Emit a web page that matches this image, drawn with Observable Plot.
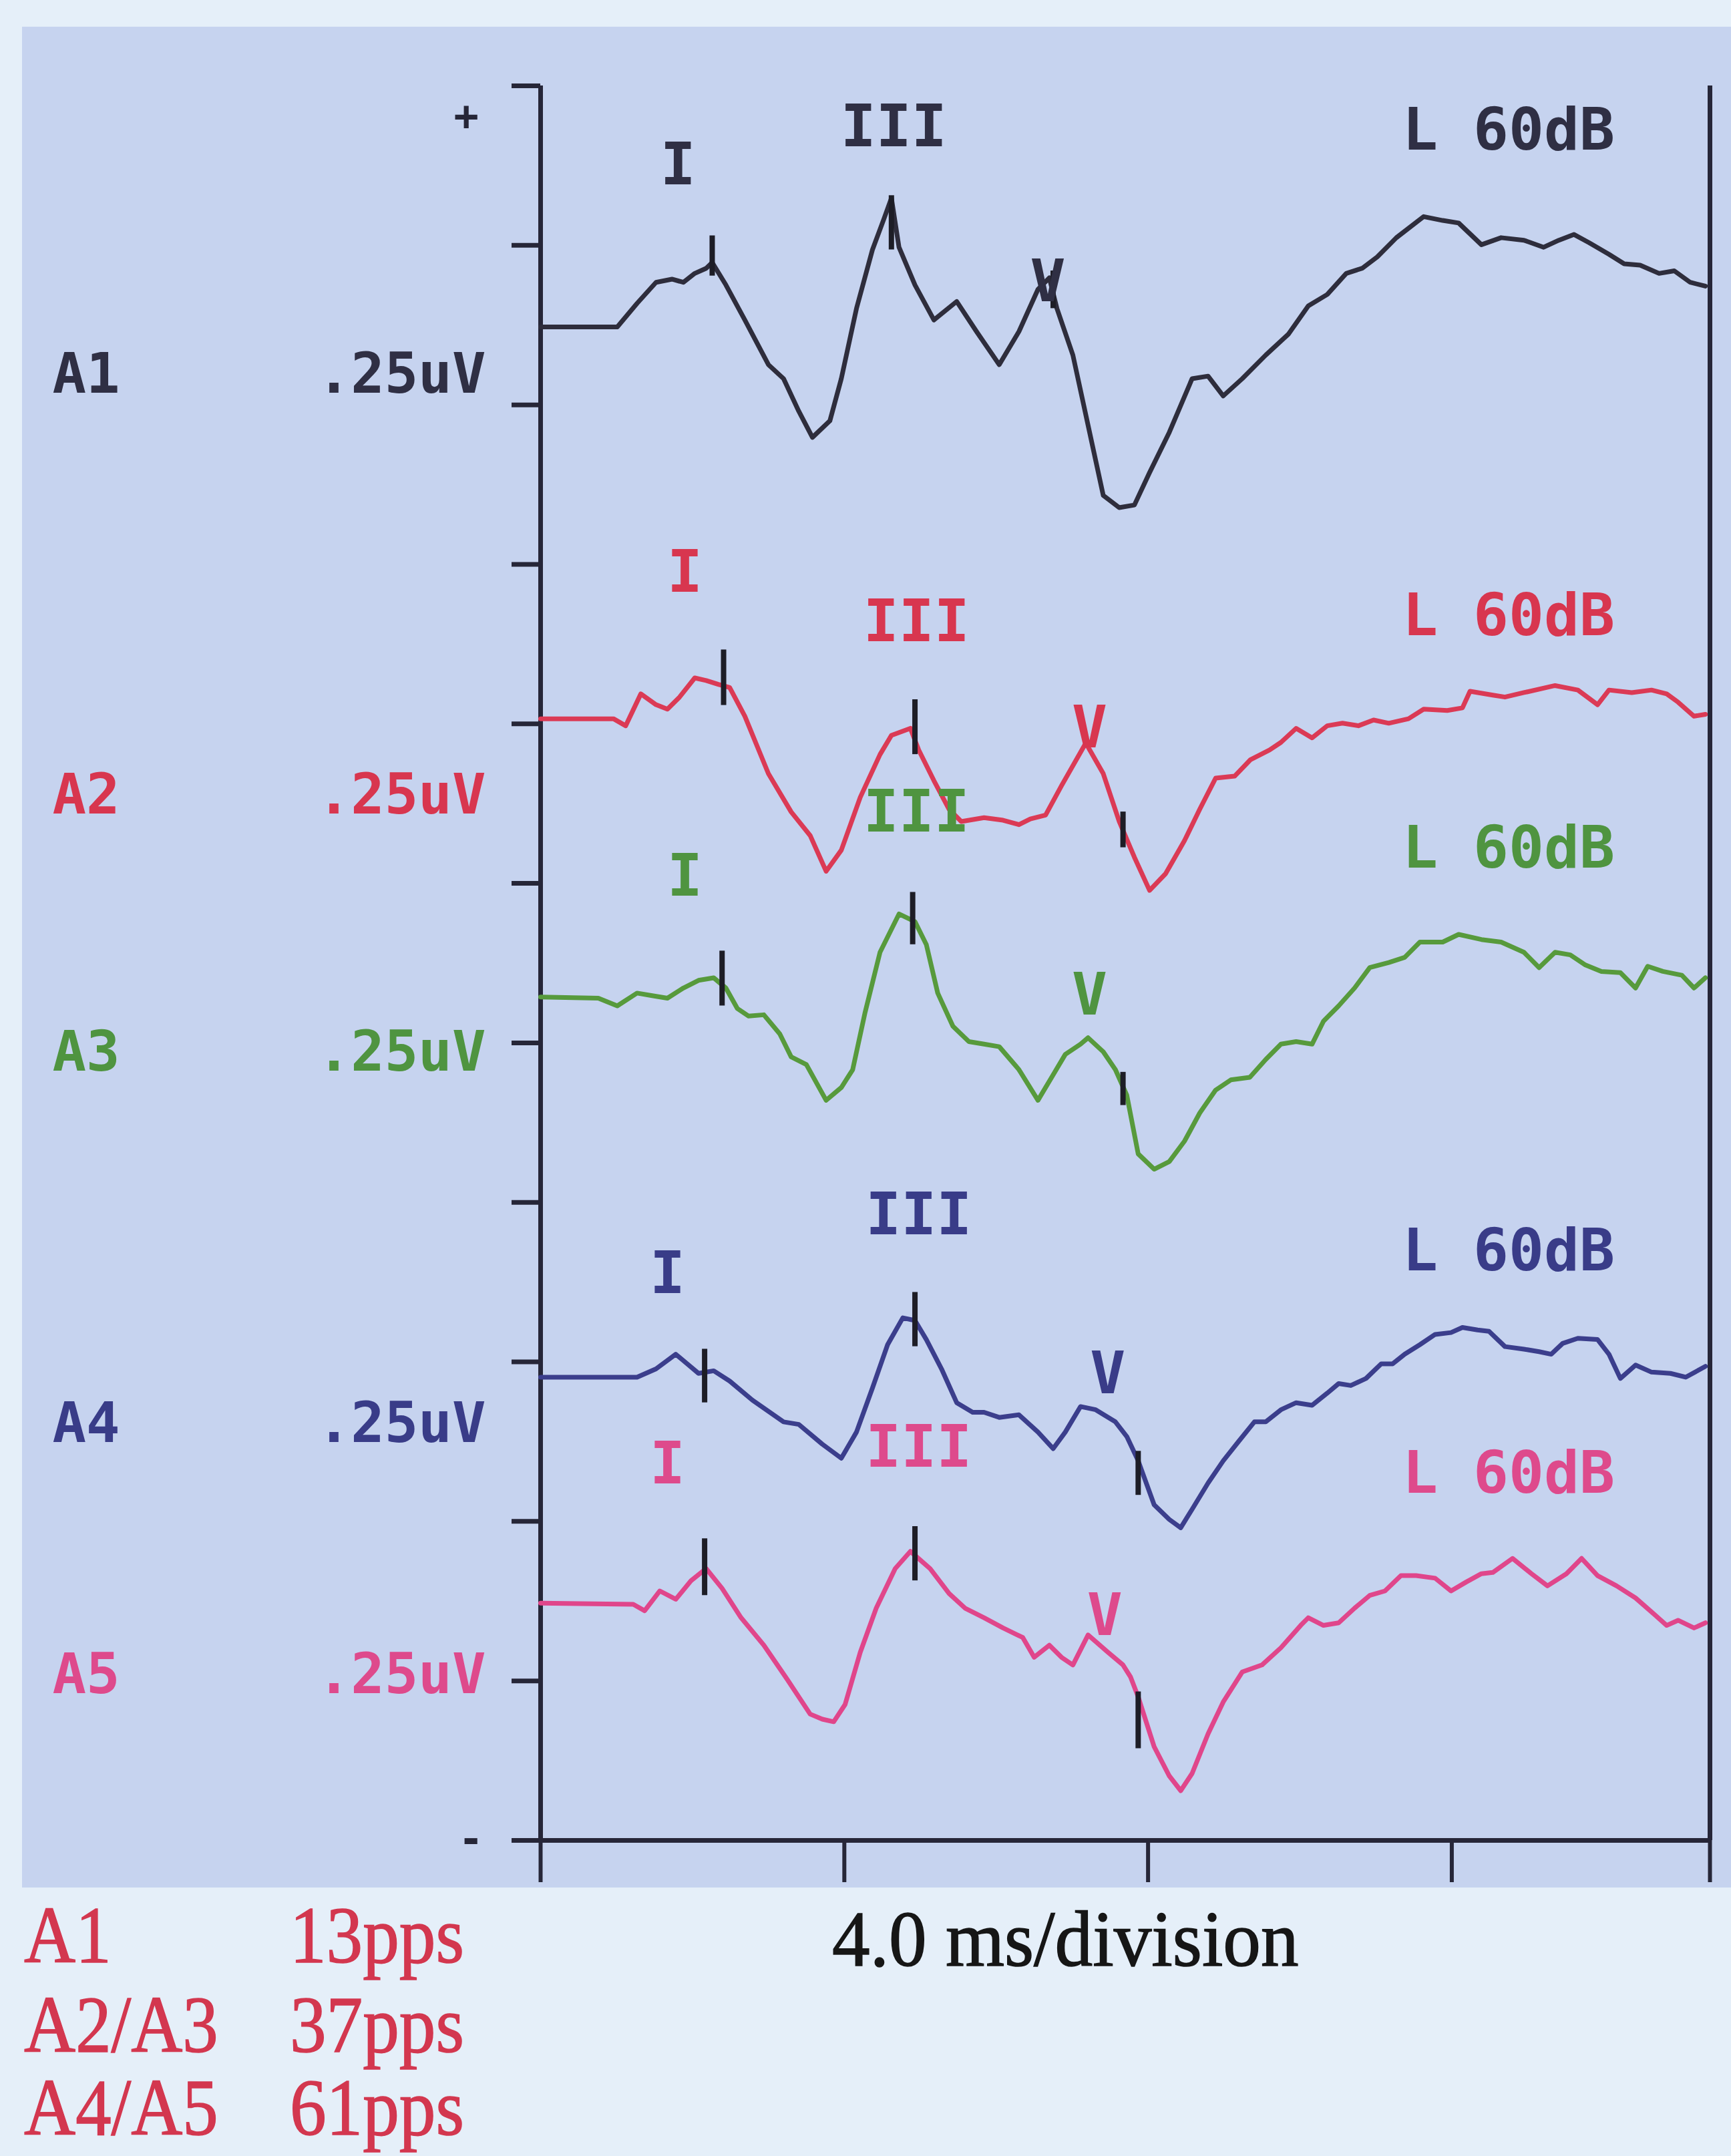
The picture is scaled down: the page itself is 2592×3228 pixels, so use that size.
<!DOCTYPE html>
<html><head><meta charset="utf-8">
<script src="https://cdn.jsdelivr.net/npm/d3@7"></script>
<script src="https://cdn.jsdelivr.net/npm/@observablehq/plot@0.6"></script>
<style>
html,body{margin:0;padding:0;background:#e5eff9;}
#page{position:relative;width:2592px;height:3228px;overflow:hidden;}
#panel{position:absolute;left:33px;top:40px;width:2559px;height:2786px;background:#c6d3ef;}
#chart{position:absolute;left:0;top:0;}
.serif{font-family:"Liberation Serif","Times New Roman",serif;position:absolute;white-space:nowrap;line-height:1;transform-origin:0 0;-webkit-text-stroke:1.5px currentColor;}
</style></head><body>
<div id="page">
<div id="panel"></div>
<div id="chart"></div>
<div class="serif" id="xlabel" style="left:1246px;top:2845px;font-size:118px;color:#161616;transform:scaleX(0.96)"></div>
<div id="legend"></div>
</div>
<script>
// ---------- data ----------
const traceNames = ["A1", "A2", "A3", "A4", "A5"];
const baselines = [2.372, 1.758, 1.322, 0.726, 0.372];   // uV, resting level of each sweep
const scaleLabel = ".25uV";
const stimulusLabel = "L 60dB";
const xAxisLabel = "4.0 ms/division";
const legendGroups = ["A1", "A2/A3", "A4/A5"];
const legendRates = ["13pps", "37pps", "61pps"];
const timeTicks = [0, 4, 8, 12];
const sweepEnd = 15.4;
const voltTicks = [0, 0.25, 0.5, 0.75, 1, 1.25, 1.5, 1.75, 2, 2.25, 2.5, 2.75];

// [time ms, amplitude uV relative to baseline]
const A1 = [[0,0],[1.01,0],[1.27,0.037],[1.52,0.070],[1.73,0.075],[1.88,0.070],[2.03,0.084],[2.18,0.092],[2.26,0.101],[2.44,0.066],[2.69,0.011],[3.00,-0.059],[3.20,-0.081],[3.40,-0.132],[3.58,-0.173],[3.81,-0.147],[3.96,-0.081],[4.16,0.029],[4.37,0.121],[4.52,0.169],[4.62,0.202],[4.72,0.125],[4.93,0.066],[5.18,0.011],[5.48,0.040],[5.74,-0.007],[6.04,-0.059],[6.30,-0.007],[6.55,0.059],[6.70,0.077],[6.80,0.029],[7.01,-0.044],[7.21,-0.154],[7.41,-0.264],[7.62,-0.283],[7.82,-0.279],[8.02,-0.228],[8.28,-0.165],[8.58,-0.081],[8.79,-0.077],[8.99,-0.108],[9.24,-0.081],[9.55,-0.044],[9.85,-0.011],[10.11,0.033],[10.36,0.051],[10.61,0.084],[10.82,0.092],[11.02,0.110],[11.27,0.140],[11.63,0.173],[11.88,0.167],[12.09,0.163],[12.39,0.129],[12.65,0.140],[12.95,0.136],[13.21,0.125],[13.41,0.136],[13.61,0.145],[13.81,0.132],[14.07,0.114],[14.27,0.099],[14.48,0.097],[14.73,0.084],[14.93,0.088],[15.14,0.070],[15.34,0.064]];
const A2 = [[0,0],[0.96,0],[1.12,-0.011],[1.32,0.039],[1.52,0.022],[1.67,0.015],[1.83,0.034],[2.03,0.064],[2.18,0.060],[2.34,0.054],[2.49,0.049],[2.69,0.004],[3.00,-0.086],[3.30,-0.146],[3.55,-0.183],[3.76,-0.239],[3.96,-0.206],[4.21,-0.123],[4.47,-0.056],[4.62,-0.026],[4.87,-0.015],[4.98,-0.049],[5.18,-0.097],[5.38,-0.142],[5.54,-0.161],[5.84,-0.155],[6.09,-0.159],[6.30,-0.166],[6.45,-0.157],[6.65,-0.151],[6.86,-0.105],[7.18,-0.038],[7.41,-0.086],[7.62,-0.161],[7.82,-0.217],[8.02,-0.269],[8.23,-0.243],[8.48,-0.191],[8.68,-0.142],[8.89,-0.093],[9.14,-0.090],[9.35,-0.064],[9.60,-0.049],[9.75,-0.037],[9.95,-0.015],[10.16,-0.030],[10.36,-0.011],[10.56,-0.007],[10.77,-0.011],[10.97,-0.002],[11.17,-0.007],[11.43,0],[11.63,0.015],[11.94,0.013],[12.14,0.017],[12.24,0.043],[12.54,0.037],[12.70,0.034],[12.95,0.041],[13.36,0.052],[13.66,0.045],[13.92,0.022],[14.07,0.045],[14.37,0.041],[14.63,0.045],[14.83,0.039],[14.98,0.026],[15.19,0.004],[15.34,0.007]];
const A3 = [[0,0],[0.76,-0.002],[1.01,-0.014],[1.27,0.006],[1.47,0.002],[1.67,-0.002],[1.88,0.014],[2.08,0.026],[2.28,0.030],[2.44,0.014],[2.59,-0.018],[2.74,-0.030],[2.94,-0.028],[3.15,-0.058],[3.30,-0.094],[3.50,-0.106],[3.76,-0.162],[3.96,-0.142],[4.11,-0.114],[4.27,-0.026],[4.47,0.070],[4.72,0.130],[4.93,0.118],[5.08,0.082],[5.23,0.006],[5.43,-0.046],[5.64,-0.070],[5.84,-0.074],[6.04,-0.078],[6.30,-0.114],[6.55,-0.162],[6.75,-0.122],[6.91,-0.090],[7.11,-0.074],[7.21,-0.064],[7.41,-0.086],[7.57,-0.114],[7.72,-0.154],[7.87,-0.246],[8.08,-0.270],[8.28,-0.258],[8.48,-0.226],[8.68,-0.182],[8.89,-0.146],[9.09,-0.130],[9.34,-0.126],[9.55,-0.098],[9.75,-0.074],[9.95,-0.070],[10.16,-0.074],[10.31,-0.038],[10.51,-0.014],[10.72,0.014],[10.92,0.046],[11.17,0.054],[11.38,0.062],[11.58,0.086],[11.88,0.086],[12.09,0.098],[12.39,0.090],[12.65,0.086],[12.95,0.070],[13.15,0.046],[13.36,0.070],[13.56,0.066],[13.76,0.050],[13.97,0.040],[14.22,0.038],[14.42,0.014],[14.58,0.048],[14.78,0.040],[15.03,0.034],[15.19,0.014],[15.34,0.030]];
const A4 = [[0,0],[1.27,0],[1.52,0.013],[1.78,0.036],[1.93,0.021],[2.08,0.006],[2.28,0.010],[2.49,-0.006],[2.79,-0.036],[3.20,-0.070],[3.40,-0.074],[3.71,-0.105],[3.96,-0.127],[4.16,-0.086],[4.37,-0.017],[4.57,0.051],[4.77,0.093],[4.93,0.089],[5.08,0.059],[5.28,0.013],[5.48,-0.040],[5.69,-0.055],[5.84,-0.055],[6.04,-0.063],[6.30,-0.059],[6.55,-0.086],[6.75,-0.112],[6.91,-0.086],[7.11,-0.046],[7.31,-0.051],[7.57,-0.070],[7.72,-0.093],[7.87,-0.131],[8.08,-0.200],[8.28,-0.223],[8.43,-0.236],[8.58,-0.207],[8.79,-0.166],[8.99,-0.131],[9.19,-0.101],[9.40,-0.070],[9.55,-0.070],[9.75,-0.051],[9.95,-0.040],[10.16,-0.044],[10.36,-0.025],[10.51,-0.010],[10.67,-0.013],[10.87,-0.002],[11.07,0.021],[11.22,0.021],[11.38,0.036],[11.58,0.051],[11.78,0.067],[11.99,0.070],[12.14,0.078],[12.34,0.074],[12.49,0.072],[12.70,0.048],[12.95,0.044],[13.15,0.040],[13.31,0.036],[13.46,0.053],[13.66,0.061],[13.92,0.059],[14.07,0.036],[14.22,-0.002],[14.42,0.019],[14.63,0.008],[14.88,0.006],[15.08,0],[15.34,0.017]];
const A5 = [[0,0],[1.22,-0.002],[1.37,-0.012],[1.57,0.019],[1.78,0.006],[1.98,0.035],[2.18,0.054],[2.39,0.023],[2.64,-0.023],[2.94,-0.066],[3.25,-0.120],[3.55,-0.174],[3.71,-0.182],[3.86,-0.186],[4.01,-0.159],[4.21,-0.077],[4.42,-0.008],[4.67,0.054],[4.87,0.081],[5.13,0.054],[5.38,0.015],[5.59,-0.008],[5.84,-0.023],[6.09,-0.039],[6.35,-0.054],[6.50,-0.085],[6.70,-0.066],[6.86,-0.085],[7.01,-0.097],[7.21,-0.050],[7.47,-0.077],[7.67,-0.097],[7.77,-0.116],[7.87,-0.147],[8.08,-0.225],[8.28,-0.271],[8.43,-0.294],[8.58,-0.267],[8.79,-0.205],[8.99,-0.155],[9.24,-0.108],[9.50,-0.097],[9.75,-0.070],[10.01,-0.035],[10.11,-0.023],[10.31,-0.035],[10.51,-0.031],[10.72,-0.008],[10.92,0.012],[11.12,0.019],[11.33,0.043],[11.53,0.043],[11.78,0.039],[11.99,0.019],[12.19,0.033],[12.39,0.046],[12.54,0.048],[12.80,0.070],[13.05,0.046],[13.26,0.027],[13.51,0.046],[13.71,0.070],[13.92,0.043],[14.17,0.027],[14.42,0.008],[14.68,-0.019],[14.83,-0.035],[14.98,-0.027],[15.19,-0.039],[15.34,-0.031]];
const sweeps = [A1, A2, A3, A4, A5];

// wave cursors (I, III, V): latency ms, cursor extent uV relative to baseline
const waveNames = ["I", "III", "V"];
const cursorLatency = [[2.26,4.62,6.75],[2.41,4.93,7.67],[2.39,4.90,7.67],[2.16,4.93,7.87],[2.16,4.93,7.87]];
const cursorTop     = [[0.143,0.206,0.088],[0.108,0.030,-0.146],[0.072,0.164,-0.118],[0.044,0.133,-0.116],[0.101,0.120,-0.139]];
const cursorBottom  = [[0.080,0.121,0.029],[0.021,-0.056,-0.202],[-0.014,0.082,-0.170],[-0.040,0.048,-0.185],[0.012,0.035,-0.228]];
// wave label anchors
const labelLatency = [[1.81,4.65,6.68],[1.90,4.95,7.23],[1.90,4.95,7.23],[1.67,4.98,7.47],[1.67,4.98,7.43]];
const labelAmp     = [[0.253,0.313,0.070],[0.229,0.151,-0.015],[0.188,0.289,0.002],[0.161,0.253,0.004],[0.217,0.243,-0.021]];
const stimLabelLatency = 11.35;
const stimLabelAmp = [0.307, 0.160, 0.232, 0.197, 0.202];
const nameLabelAmp = [-0.075, -0.120, -0.087, -0.073, -0.113];

// ---------- style ----------
const traceColors = ["#2e2d3c", "#db3a55", "#579a3c", "#3b3e8c", "#e0468b"];
const textColors  = ["#2f2f44", "#d8364f", "#4f9440", "#393c88", "#de4a8c"];
const axisColor = "#262638";
const mono = "'DejaVu Sans Mono', monospace";

const marks = [];
// frame / axes
marks.push(Plot.axisY({ticks: voltTicks, tickSize: 43, tickFormat: () => "", label: null, stroke: axisColor, strokeWidth: 7}));
marks.push(Plot.axisX({ticks: [...timeTicks, sweepEnd], tickSize: 63, tickFormat: () => "", label: null, stroke: axisColor, strokeWidth: 6}));
marks.push(Plot.ruleY([0], {stroke: axisColor, strokeWidth: 7}));
marks.push(Plot.ruleX([0, sweepEnd], {stroke: axisColor, strokeWidth: 7}));
marks.push(Plot.text([voltTicks[voltTicks.length - 1]], {y: d => d, text: () => "+", frameAnchor: "left", dx: -130, dy: 47, fontSize: 62, fontWeight: "bold", fontFamily: mono, fill: axisColor}));
marks.push(Plot.text([voltTicks[0]], {y: d => d, text: () => "-", frameAnchor: "left", dx: -123, fontSize: 62, fontWeight: "bold", fontFamily: mono, fill: axisColor}));

traceNames.forEach((name, i) => {
  const rows = sweeps[i].map(([t, a]) => ({t, y: baselines[i] + a}));
  marks.push(Plot.line(rows, {x: "t", y: "y", stroke: traceColors[i], strokeWidth: 7, strokeLinejoin: "round", strokeLinecap: "round"}));
});
traceNames.forEach((name, i) => {
  const cur = waveNames.map((w, j) => ({t: cursorLatency[i][j], y1: baselines[i] + cursorBottom[i][j], y2: baselines[i] + cursorTop[i][j]}));
  marks.push(Plot.ruleX(cur, {x: "t", y1: "y1", y2: "y2", stroke: "#1d1d26", strokeWidth: 8}));
  const lab = waveNames.map((w, j) => ({w, t: labelLatency[i][j], y: baselines[i] + labelAmp[i][j]}));
  marks.push(Plot.text(lab, {x: "t", y: "y", text: "w", fill: textColors[i], fontSize: 88, fontWeight: "bold", fontFamily: mono, textAnchor: "middle", lineAnchor: "middle"}));
  marks.push(Plot.text([baselines[i] + stimLabelAmp[i]], {x: () => stimLabelLatency, y: d => d, text: () => stimulusLabel, fill: textColors[i], fontSize: 88, fontWeight: "bold", fontFamily: mono, textAnchor: "start", lineAnchor: "middle"}));
  marks.push(Plot.text([baselines[i] + nameLabelAmp[i]], {y: d => d, text: () => name, frameAnchor: "left", dx: -731, textAnchor: "start", lineAnchor: "middle", fill: textColors[i], fontSize: 84, fontWeight: "bold", fontFamily: mono}));
  marks.push(Plot.text([baselines[i] + nameLabelAmp[i]], {y: d => d, text: () => scaleLabel, frameAnchor: "left", dx: -82, textAnchor: "end", lineAnchor: "middle", fill: textColors[i], fontSize: 84, fontWeight: "bold", fontFamily: mono}));
});

const chart = Plot.plot({
  width: 2592, height: 2830,
  marginLeft: 809, marginRight: 32, marginTop: 128, marginBottom: 75,
  style: {background: "transparent", overflow: "visible"},
  x: {domain: [0, sweepEnd]},
  y: {domain: [0, 2.75]},
  marks
});
document.getElementById("chart").appendChild(chart);

document.getElementById("xlabel").textContent = xAxisLabel;
const legend = document.getElementById("legend");
const legendTop = [2838, 2972, 3096];
legendGroups.forEach((g, i) => {
  const a = document.createElement("div");
  a.className = "serif"; a.textContent = g;
  a.style.cssText = `left:36px;top:${legendTop[i]}px;font-size:120px;color:#d3374f;transform:scaleX(0.89)`;
  const b = document.createElement("div");
  b.className = "serif"; b.textContent = legendRates[i];
  b.style.cssText = `left:434px;top:${legendTop[i]}px;font-size:120px;color:#d3374f;transform:scaleX(0.91)`;
  legend.appendChild(a); legend.appendChild(b);
});
</script>
</body></html>
